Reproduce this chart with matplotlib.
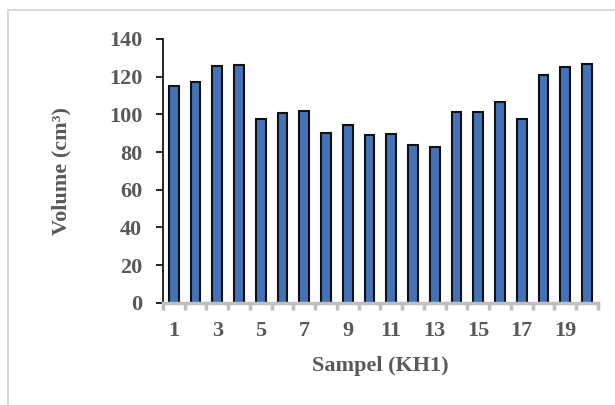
import matplotlib
matplotlib.use('Agg')
import matplotlib.pyplot as plt
from matplotlib.lines import Line2D
import numpy as np

# sample numbers and measured volumes (cm3)
samples = list(range(1, 21))
volumes = [114.8, 117.4, 125.5, 126.2, 97.3, 100.5, 101.9, 90.0, 94.6, 89.0,
           89.7, 83.5, 82.6, 101.2, 101.2, 106.6, 97.5, 120.8, 125.2, 126.9]
tick_labels = ['1', '3', '5', '7', '9', '11', '13', '15', '17', '19']

plt.rcParams['font.family'] = ['Liberation Serif', 'DejaVu Serif']
text_color = '#595959'

fig = plt.figure(figsize=(6.15, 4.05), dpi=100)
ax = fig.add_axes([0.265, 0.252, 0.707, 0.652])

ax.bar(samples, volumes, width=0.45, color='#4472B8', edgecolor='#111111', linewidth=1.5)

ax.set_xlim(0.5, 20.5)
ax.set_ylim(0, 140)
ax.set_yticks(range(0, 141, 20))
ax.set_xticks(samples[::2])
ax.set_xticklabels(tick_labels)
ax.set_xticks(np.arange(0.5, 21, 1), minor=True)

ax.tick_params(axis='x', which='major', length=0, pad=13, labelsize=16, labelcolor=text_color)
ax.tick_params(axis='x', which='minor', length=5, width=2.5, color='#bfbfbf', direction='out')
ax.tick_params(axis='y', length=5, width=1.2, color='black', labelsize=16, labelcolor=text_color, pad=10)
for lab in ax.get_xticklabels() + ax.get_yticklabels():
    lab.set_fontweight('bold')

ax.spines['top'].set_visible(False)
ax.spines['right'].set_visible(False)
ax.spines['left'].set_color('black')
ax.spines['left'].set_linewidth(1.2)
ax.spines['bottom'].set_color('#bfbfbf')
ax.spines['bottom'].set_linewidth(2.5)

ax.set_xlabel('Sampel (KH1)', fontsize=16, fontweight='bold', color=text_color, labelpad=11)
ax.set_ylabel('Volume (cm³)', fontsize=16, fontweight='bold', color=text_color, labelpad=27)

# light frame around the chart area
fig.add_artist(Line2D([0.013, 0.013], [0, 0.975], color='#d9d9d9', lw=1.5))
fig.add_artist(Line2D([0.013, 1.0], [0.975, 0.975], color='#d9d9d9', lw=1.5))

fig.savefig('out.png', dpi=100)
